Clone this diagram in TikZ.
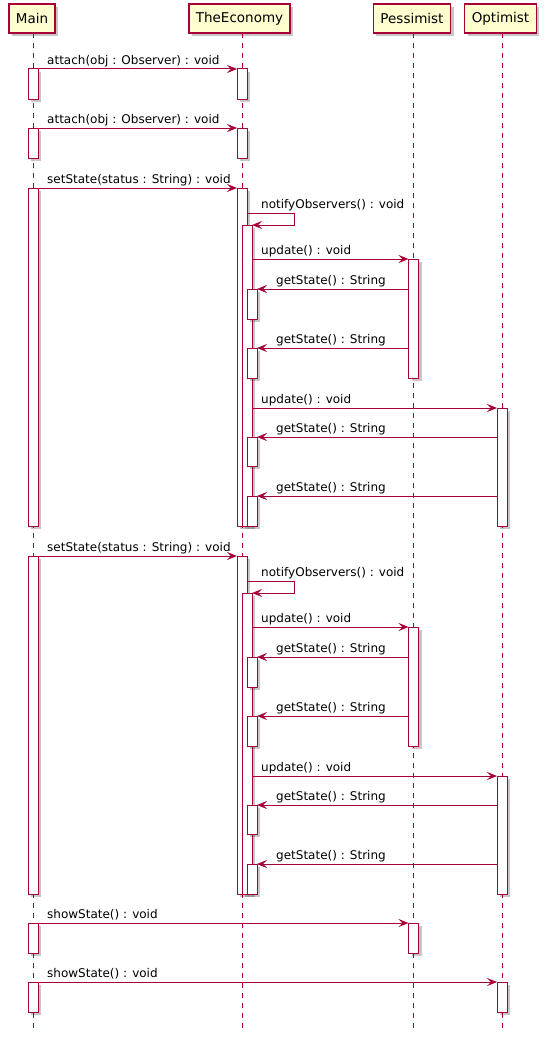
\documentclass[tikz,border=0pt]{standalone}
\usepackage{fontspec}
\setmainfont{DejaVu Sans}
\usetikzlibrary{arrows.meta,shadows}
\definecolor{umlred}{HTML}{A80036}
\definecolor{umlfill}{HTML}{FEFECE}
\tikzset{
	participant/.style={draw=umlred, fill=umlfill, line width=1.3pt, minimum height=29pt, inner xsep=7pt, inner ysep=0pt, outer sep=0pt, font=\fontsize{13.5}{16}\selectfont, drop shadow={shadow xshift=3pt, shadow yshift=-3pt, opacity=0.22, fill=black}},
	lifeline/.style={draw=umlred, line width=0.8pt, dash pattern=on 5pt off 5pt},
	actbar/.style={draw=umlred, fill=white, line width=1pt, minimum width=10pt, inner sep=0pt, outer sep=0pt, anchor=north, drop shadow={shadow xshift=3pt, shadow yshift=-3pt, opacity=0.22, fill=black}},
	msg/.style={draw=umlred, line width=1pt, -{Stealth[length=10pt,width=8pt,inset=4pt]}},
	msglabel/.style={anchor=base west, inner sep=0pt, font=\fontsize{12}{14}\selectfont}
}
\begin{document}
\begin{tikzpicture}[x=1pt,y=1pt,yscale=-1,xscale=1]
	\useasboundingbox (0,0) rectangle (547,1041);
	% participants
	\node [participant] (Main) at (32,18.5) {Main};
	\node [participant] (Economy) at (239.5,18.5) {TheEconomy};
	\node [participant] (Pessimist) at (412,18.5) {Pessimist};
	\node [participant] (Optimist) at (500.5,18.5) {Optimist};
	\coordinate (mainEnd) at (33,1030);
	\coordinate (economyEnd) at (242,1030);
	\coordinate (pessimistEnd) at (413.5,1030);
	\coordinate (optimistEnd) at (502,1030);
	\draw [lifeline] (Main.south -| mainEnd) -- (mainEnd);
	\draw [lifeline] (Economy.south -| economyEnd) -- (economyEnd);
	\draw [lifeline] (Pessimist.south -| pessimistEnd) -- (pessimistEnd);
	\draw [lifeline] (Optimist.south -| optimistEnd) -- (optimistEnd);

	% attach
	\node [actbar, minimum height=30pt] (m1) at (33,69) {};
	\node [actbar, minimum height=30pt] (e1) at (242,69) {};
	\draw [msg] (m1.north east) -- (e1.north west);
	\path (m1.north east) ++(9,-5) node [msglabel] (t1) {attach(obj : Observer) : void};
	\node [actbar, minimum height=30pt] (m2) at (33,128) {};
	\node [actbar, minimum height=30pt] (e2) at (242,128) {};
	\draw [msg] (m2.north east) -- (e2.north west);
	\path (m2.north east) ++(9,-5) node [msglabel] (t2) {attach(obj : Observer) : void};

	% first setState
	\node [actbar, minimum height=338pt] (m3) at (33,188) {};
	\node [actbar, minimum height=338pt] (e3) at (242,188) {};
	\draw [msg] (m3.north east) -- (e3.north west);
	\path (m3.north east) ++(9,-5) node [msglabel] (t3) {setState(status : String) : void};
	\node [actbar, minimum height=301pt] (n1) at (247,225) {};
	\draw [msg] (e3.north east) ++(0,25) -- ++(47,0) |- (n1.north east);
	\path (e3.north east) ++(14,20) node [msglabel] (t4) {notifyObservers() : void};
	\node [actbar, minimum height=119pt] (p1) at (413.5,259) {};
	\draw [msg] (n1.east |- p1.north) -- (p1.north west);
	\path (n1.east |- p1.north) ++(9,-5) node [msglabel] (t5) {update() : void};
	\node [actbar, minimum height=30pt] (g1) at (252,289) {};
	\draw [msg] (p1.west |- g1.north) -- (g1.north east);
	\path (g1.north east) ++(19,-5) node [msglabel] (t6) {getState() : String};
	\node [actbar, minimum height=30pt] (g2) at (252,348) {};
	\draw [msg] (p1.west |- g2.north) -- (g2.north east);
	\path (g2.north east) ++(19,-5) node [msglabel] (t7) {getState() : String};
	\node [actbar, minimum height=118pt] (o1) at (502,408) {};
	\draw [msg] (n1.east |- o1.north) -- (o1.north west);
	\path (n1.east |- o1.north) ++(9,-5) node [msglabel] (t8) {update() : void};
	\node [actbar, minimum height=29pt] (g3) at (252,437) {};
	\draw [msg] (o1.west |- g3.north) -- (g3.north east);
	\path (g3.north east) ++(19,-5) node [msglabel] (t9) {getState() : String};
	\node [actbar, minimum height=30pt] (g4) at (252,496) {};
	\draw [msg] (o1.west |- g4.north) -- (g4.north east);
	\path (g4.north east) ++(19,-5) node [msglabel] (t10) {getState() : String};

	% second setState
	\node [actbar, minimum height=338pt] (m4) at (33,556) {};
	\node [actbar, minimum height=338pt] (e4) at (242,556) {};
	\draw [msg] (m4.north east) -- (e4.north west);
	\path (m4.north east) ++(9,-5) node [msglabel] (t11) {setState(status : String) : void};
	\node [actbar, minimum height=301pt] (n2) at (247,593) {};
	\draw [msg] (e4.north east) ++(0,25) -- ++(47,0) |- (n2.north east);
	\path (e4.north east) ++(14,20) node [msglabel] (t12) {notifyObservers() : void};
	\node [actbar, minimum height=119pt] (p2) at (413.5,627) {};
	\draw [msg] (n2.east |- p2.north) -- (p2.north west);
	\path (n2.east |- p2.north) ++(9,-5) node [msglabel] (t13) {update() : void};
	\node [actbar, minimum height=30pt] (g5) at (252,657) {};
	\draw [msg] (p2.west |- g5.north) -- (g5.north east);
	\path (g5.north east) ++(19,-5) node [msglabel] (t14) {getState() : String};
	\node [actbar, minimum height=30pt] (g6) at (252,716) {};
	\draw [msg] (p2.west |- g6.north) -- (g6.north east);
	\path (g6.north east) ++(19,-5) node [msglabel] (t15) {getState() : String};
	\node [actbar, minimum height=118pt] (o2) at (502,776) {};
	\draw [msg] (n2.east |- o2.north) -- (o2.north west);
	\path (n2.east |- o2.north) ++(9,-5) node [msglabel] (t16) {update() : void};
	\node [actbar, minimum height=29pt] (g7) at (252,805) {};
	\draw [msg] (o2.west |- g7.north) -- (g7.north east);
	\path (g7.north east) ++(19,-5) node [msglabel] (t17) {getState() : String};
	\node [actbar, minimum height=30pt] (g8) at (252,864) {};
	\draw [msg] (o2.west |- g8.north) -- (g8.north east);
	\path (g8.north east) ++(19,-5) node [msglabel] (t18) {getState() : String};

	% showState
	\node [actbar, minimum height=30pt] (m5) at (33,923) {};
	\node [actbar, minimum height=30pt] (p3) at (413.5,923) {};
	\draw [msg] (m5.north east) -- (p3.north west);
	\path (m5.north east) ++(9,-5) node [msglabel] (t19) {showState() : void};
	\node [actbar, minimum height=30pt] (m6) at (33,982) {};
	\node [actbar, minimum height=30pt] (o3) at (502,982) {};
	\draw [msg] (m6.north east) -- (o3.north west);
	\path (m6.north east) ++(9,-5) node [msglabel] (t20) {showState() : void};
\end{tikzpicture}
\end{document}
